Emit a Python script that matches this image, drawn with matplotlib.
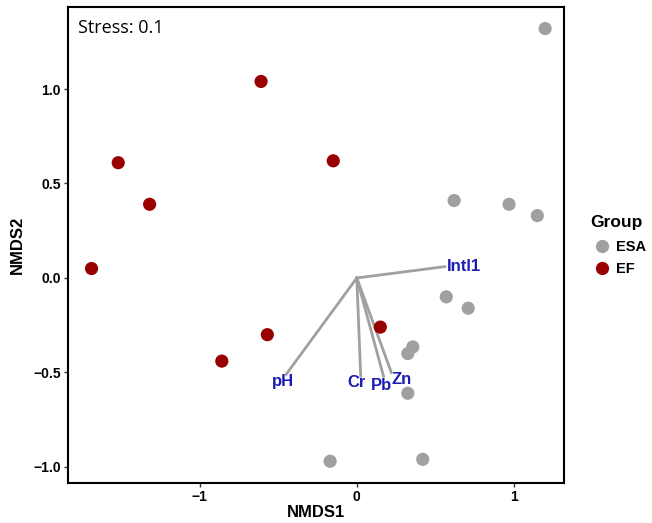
import matplotlib
matplotlib.use("Agg")
import matplotlib.pyplot as plt
from matplotlib.lines import Line2D

# sample scores
esa_x = [1.20, 0.62, 0.97, 1.15, 0.57, 0.71, 0.325, 0.357, 0.325, -0.17, 0.42]
esa_y = [1.32, 0.41, 0.39, 0.33, -0.10, -0.16, -0.40, -0.365, -0.61, -0.97, -0.96]
ef_x = [-0.61, -1.52, -0.15, -1.32, -1.69, -0.57, -0.86, 0.15]
ef_y = [1.04, 0.61, 0.62, 0.39, 0.05, -0.30, -0.44, -0.26]

# environmental vectors
env_names = ["Intl1", "pH", "Cr", "Pb", "Zn"]
env_x = [0.56, -0.45, 0.025, 0.17, 0.22]
env_y = [0.06, -0.51, -0.52, -0.52, -0.50]
label_x = [0.68, -0.47, 0.0, 0.155, 0.285]
label_y = [0.063, -0.55, -0.555, -0.57, -0.535]

grey = "#A0A0A0"
red = "#990000"
blue = "#1C1CB4"

fig = plt.figure(figsize=(6.52, 5.23), dpi=100)
ax = fig.add_axes([0.1043, 0.0765, 0.7607, 0.9101])

for x, y in zip(env_x, env_y):
    ax.plot([0, x], [0, y], color=grey, lw=2, zorder=1)

ax.scatter(esa_x, esa_y, s=90, color=grey, edgecolors="none", zorder=2)
ax.scatter(ef_x, ef_y, s=90, color=red, edgecolors="none", zorder=2)

for name, x, y in zip(env_names, label_x, label_y):
    ax.text(x, y, name, color=blue, fontsize=12, fontweight="bold",
            family="Liberation Sans", ha="center", va="center", zorder=3)

ax.text(0.02, 0.975, "Stress: 0.1", transform=ax.transAxes, fontsize=13,
        family="Open Sans", ha="left", va="top")

ax.set_xlim(-1.84, 1.32)
ax.set_ylim(-1.085, 1.434)
ax.set_xticks([-1, 0, 1])
ax.set_xticklabels(["\u22121", "0", "1"])
ax.set_yticks([-1.0, -0.5, 0.0, 0.5, 1.0])
ax.set_yticklabels(["\u22121.0", "\u22120.5", "0.0", "0.5", "1.0"])
for lab in ax.get_xticklabels() + ax.get_yticklabels():
    lab.set_fontweight("bold")
    lab.set_family("Liberation Sans")
    lab.set_fontsize(10)
ax.tick_params(length=3, width=1, color="#333333", pad=2)
for sp in ax.spines.values():
    sp.set_linewidth(1.5)

ax.set_xlabel("NMDS1", fontsize=12, fontweight="bold", family="Liberation Sans", labelpad=1)
ax.set_ylabel("NMDS2", fontsize=12, fontweight="bold", family="Liberation Sans", labelpad=6)

# legend
fig.text(0.905, 0.575, "Group", fontsize=12.5, fontweight="bold",
         family="Liberation Sans", ha="left", va="center")
handles = [Line2D([], [], marker="o", ls="", color=grey, markersize=8.5, label="ESA"),
           Line2D([], [], marker="o", ls="", color=red, markersize=8.5, label="EF")]
fig.legend(handles=handles, loc="upper left",
           bbox_to_anchor=(0.895, 0.56), frameon=False,
           prop={"family": "Liberation Sans", "weight": "bold", "size": 10.5},
           handletextpad=0.3, labelspacing=0.55, handlelength=1.2, borderpad=0.2)

fig.savefig("out.png", dpi=100)
